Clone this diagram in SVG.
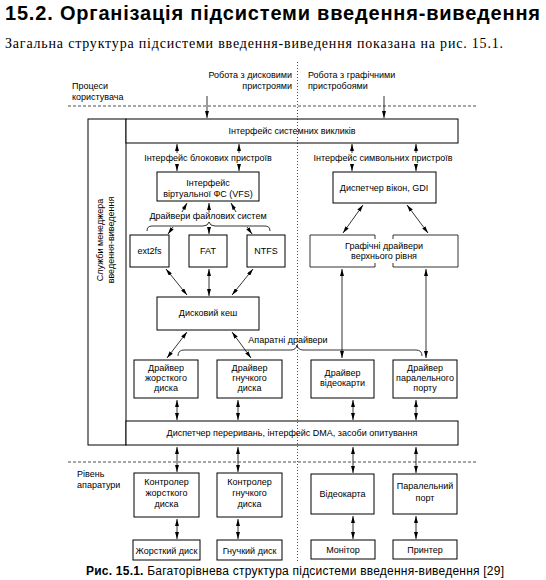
<svg xmlns="http://www.w3.org/2000/svg" width="546" height="580" viewBox="0 0 546 580">
<defs>
<marker id="ah" viewBox="0 0 7 4" refX="7" refY="2" markerWidth="7" markerHeight="4" orient="auto-start-reverse" markerUnits="userSpaceOnUse"><path d="M0,0 L7,2 L0,4 z" fill="#000"/></marker>
</defs>
<style>
text{font-family:"Liberation Sans",Arial,sans-serif;fill:#000}
.t{font-size:9px}
.c{text-anchor:middle}
.box{fill:#fff;stroke:#000;stroke-width:1}
.ln{stroke:#000;stroke-width:0.8;fill:none}
.ar{stroke:#000;stroke-width:0.8;fill:none;marker-end:url(#ah)}
.da{stroke:#000;stroke-width:0.8;fill:none;marker-end:url(#ah);marker-start:url(#ah)}
.dash{stroke:#000;stroke-width:0.7;stroke-dasharray:3,2;fill:none}
.dot{stroke:#000;stroke-width:0.7;stroke-dasharray:1,2;fill:none}
</style>
<rect width="546" height="580" fill="#fff"/>
<text x="5" y="20" font-size="20" font-weight="bold" textLength="535">15.2. Організація підсистеми введення-виведення</text>
<text x="5" y="48" style="font-family:'Liberation Serif','Times New Roman',serif;font-size:14px" textLength="498">Загальна структура підсистеми введення-виведення показана на рис. 15.1.</text>

<g id="labels">
<text class="t" x="72" y="89">Процеси</text>
<text class="t" x="72" y="100">користувача</text>
<text class="t" x="292" y="78" text-anchor="end">Робота з дисковими</text>
<text class="t" x="292" y="89" text-anchor="end">пристроями</text>
<text class="t" x="308" y="78">Робота з графічними</text>
<text class="t" x="308" y="89">пристробоями</text>
<text class="t" x="77" y="477">Рівень</text>
<text class="t" x="77" y="488">апаратури</text>
<text class="t c" x="208" y="161">Інтерфейс блокових пристроїв</text>
<text class="t c" x="383" y="161">Інтерфейс символьних пристроїв</text>
<text class="t c" x="208" y="219">Драйвери файлових систем</text>
<text class="t c" x="288" y="343">Апаратні драйвери</text>
</g>

<g id="frame">
<rect class="box" x="88" y="119" width="38" height="326"/>
<text class="t c" transform="translate(103,240) rotate(-90)">Служби менеджера</text>
<text class="t c" transform="translate(114,240) rotate(-90)">введення-виведення</text>
</g>
<g id="syscalls"><rect class="box" x="126" y="119" width="332" height="24"/><text class="t c" x="292" y="134">Інтерфейс системних викликів</text></g>
<g id="dispatch"><rect class="box" x="126" y="421" width="332" height="24"/><text class="t c" x="292" y="436">Диспетчер переривань, інтерфейс DMA,  засоби опитування</text></g>

<g id="vfs"><rect class="box" x="157" y="172" width="102" height="29"/><text class="t c" x="208" y="186">Інтерфейс</text><text class="t c" x="208" y="197">віртуальної ФС (VFS)</text></g>
<g id="gdi"><rect class="box" x="333" y="172" width="103" height="31"/><text class="t c" x="384" y="191">Диспетчер вікон, GDI</text></g>
<g id="ext2fs"><rect class="box" x="130" y="235" width="39" height="32"/><text class="t c" x="149.5" y="254">ext2fs</text></g>
<g id="fat"><rect class="box" x="189" y="235" width="38" height="32"/><text class="t c" x="208" y="254">FAT</text></g>
<g id="ntfs"><rect class="box" x="247" y="235" width="38" height="32"/><text class="t c" x="266" y="254">NTFS</text></g>
<g id="gfxdrv">
<path class="ln" d="M375,239 L375,235 L310,235 L310,267 L375,267 L375,263"/>
<path class="ln" d="M393,239 L393,235 L458,235 L458,267 L393,267 L393,263"/>
<text class="t c" x="384" y="249">Графічні драйвери</text><text class="t c" x="384" y="259">верхнього рівня</text>
</g>
<g id="cache"><rect class="box" x="157" y="297" width="102" height="33"/><text class="t c" x="208" y="316">Дисковий кеш</text></g>

<g id="drv-hdd"><rect class="box" x="134" y="360" width="64" height="38"/><text class="t c" x="166" y="371">Драйвер</text><text class="t c" x="166" y="381">жорсткого</text><text class="t c" x="166" y="391">диска</text></g>
<g id="drv-fdd"><rect class="box" x="217" y="360" width="65" height="38"/><text class="t c" x="249.5" y="371">Драйвер</text><text class="t c" x="249.5" y="381">гнучкого</text><text class="t c" x="249.5" y="391">диска</text></g>
<g id="drv-video"><rect class="box" x="311" y="360" width="63" height="38"/><text class="t c" x="342.5" y="376">Драйвер</text><text class="t c" x="342.5" y="386">відеокарти</text></g>
<g id="drv-lpt"><rect class="box" x="393" y="360" width="64" height="38"/><text class="t c" x="425" y="371">Драйвер</text><text class="t c" x="425" y="381">паралельного</text><text class="t c" x="425" y="391">порту</text></g>

<g id="ctl-hdd"><rect class="box" x="134" y="473" width="65" height="44"/><text class="t c" x="166.5" y="485">Контролер</text><text class="t c" x="166.5" y="496">жорсткого</text><text class="t c" x="166.5" y="507">диска</text></g>
<g id="ctl-fdd"><rect class="box" x="217" y="473" width="65" height="44"/><text class="t c" x="249.5" y="485">Контролер</text><text class="t c" x="249.5" y="496">гнучкого</text><text class="t c" x="249.5" y="507">диска</text></g>
<g id="videocard"><rect class="box" x="311" y="474" width="63" height="40"/><text class="t c" x="342.5" y="497">Відеокарта</text></g>
<g id="lpt"><rect class="box" x="393" y="474" width="64" height="40"/><text class="t c" x="425" y="489">Паралельний</text><text class="t c" x="425" y="501">порт</text></g>

<g id="hdd"><rect class="box" x="133" y="540" width="67" height="20"/><text class="t c" x="166.5" y="554">Жорсткий диск</text></g>
<g id="fdd"><rect class="box" x="217" y="540" width="65" height="20"/><text class="t c" x="249.5" y="554">Гнучкий диск</text></g>
<g id="monitor"><rect class="box" x="311" y="540" width="64" height="19"/><text class="t c" x="343" y="553">Монітор</text></g>
<g id="printer"><rect class="box" x="393" y="540" width="64" height="19"/><text class="t c" x="425" y="553">Принтер</text></g>

<g id="connectors">
<line class="dash" x1="68" y1="106" x2="478" y2="106"/>
<line class="dash" x1="68" y1="462" x2="476" y2="462"/>
<line class="dot" x1="297.5" y1="62" x2="297.5" y2="562"/>
<line class="ar" x1="207" y1="96" x2="207" y2="118"/>
<line class="ar" x1="384" y1="96" x2="384" y2="118"/>
<line class="ar" x1="177" y1="153" x2="177" y2="144"/>
<line class="ar" x1="177" y1="164" x2="177" y2="171"/>
<line class="ar" x1="239" y1="153" x2="239" y2="144"/>
<line class="ar" x1="239" y1="164" x2="239" y2="171"/>
<line class="ar" x1="352" y1="153" x2="352" y2="144"/>
<line class="ar" x1="352" y1="164" x2="352" y2="171"/>
<line class="ar" x1="416" y1="153" x2="416" y2="144"/>
<line class="ar" x1="416" y1="164" x2="416" y2="171"/>
<line class="ar" x1="182" y1="212" x2="187" y2="203"/>
<line class="ar" x1="173" y1="227" x2="168" y2="234"/>
<line class="ar" x1="209" y1="212" x2="209" y2="203"/>
<line class="ar" x1="209" y1="227" x2="209" y2="234"/>
<line class="ar" x1="236" y1="212" x2="231" y2="203"/>
<line class="ar" x1="247" y1="227" x2="252" y2="234"/>
<path class="ln" d="M147,231 Q147,226 152,226 L203,226 Q208,226 209,222 Q210,226 215,226 L265,226 Q270,226 270,231"/>
<line class="da" x1="166" y1="269" x2="187" y2="295"/>
<line class="da" x1="209" y1="269" x2="209" y2="296"/>
<line class="da" x1="253" y1="269" x2="232" y2="295"/>
<line class="da" x1="363" y1="205" x2="343" y2="233"/>
<line class="da" x1="407" y1="205" x2="428" y2="233"/>
<line class="da" x1="187" y1="332" x2="167" y2="358"/>
<line class="da" x1="232" y1="332" x2="251" y2="358"/>
<path class="ln" d="M178,356 Q178,350 184,350 L291,350 Q296,350 297,345 Q298,350 303,350 L416,350 Q422,350 422,356"/>
<line class="da" x1="342" y1="269" x2="342" y2="358"/>
<line class="da" x1="426" y1="269" x2="426" y2="358"/>
<line class="da" x1="177" y1="400" x2="177" y2="420"/>
<line class="da" x1="238" y1="400" x2="238" y2="420"/>
<line class="da" x1="353" y1="400" x2="353" y2="420"/>
<line class="da" x1="416" y1="400" x2="416" y2="420"/>
<line class="da" x1="177" y1="447" x2="177" y2="472"/>
<line class="da" x1="238" y1="447" x2="238" y2="472"/>
<line class="da" x1="353" y1="447" x2="353" y2="473"/>
<line class="da" x1="416" y1="447" x2="416" y2="473"/>
<line class="da" x1="177" y1="519" x2="177" y2="539"/>
<line class="da" x1="238" y1="519" x2="238" y2="539"/>
<line class="da" x1="353" y1="516" x2="353" y2="539"/>
<line class="da" x1="416" y1="516" x2="416" y2="539"/>
</g>

<text x="86" y="575" font-size="12" textLength="418"><tspan font-weight="bold">Рис. 15.1.</tspan> Багаторівнева структура підсистеми введення-виведення [29]</text>
</svg>
